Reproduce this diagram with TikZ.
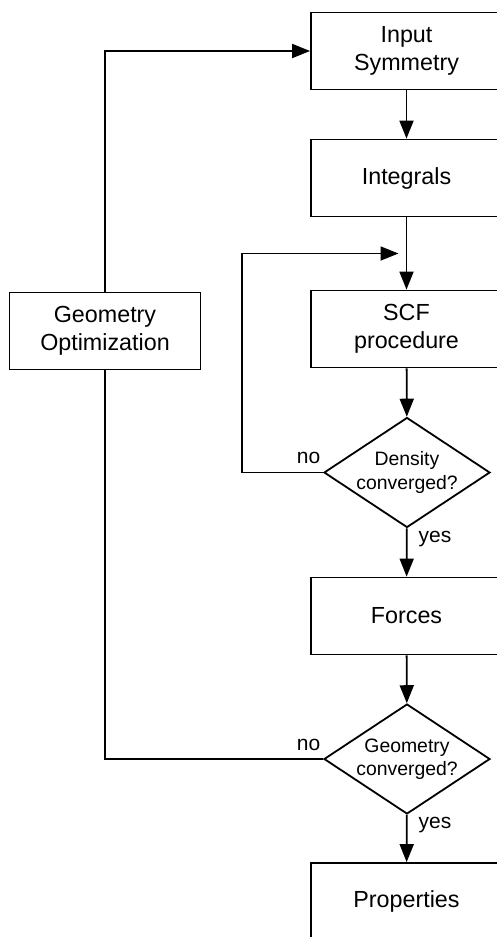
\documentclass[tikz,border=0pt]{standalone}
\usepackage{fontspec}
\setmainfont{Liberation Sans}
\usetikzlibrary{shapes.geometric,arrows.meta,calc}
\begin{document}
\begin{tikzpicture}[x=1pt,y=-1pt,
  line width=1.8pt,
  stepbox/.style={draw,rectangle,minimum width=191pt,minimum height=77pt,
    inner sep=0pt,align=center,font=\fontsize{23.3}{27.5}\selectfont},
  decision/.style={draw,diamond,aspect=1.5,inner sep=-4pt,
    minimum width=166pt,minimum height=110pt,align=center,
    font=\fontsize{19.4}{23.3}\selectfont},
  lbl/.style={inner sep=0pt,font=\fontsize{21}{24}\selectfont},
  arr/.style={-{Triangle[length=18pt,width=14pt]}}]
\useasboundingbox (0,0) rectangle (497,937);
\clip (0,0) rectangle (497,937);

% main column of steps
\node[stepbox] (in)     at (406.5,51)    {Input\\Symmetry};
\node[stepbox] (int)    at (406.5,178)   {Integrals};
\node[stepbox] (scf)    at (406.5,329)   {SCF\\procedure};
\node[decision] (dd)    at (407,472.5)   {Density\\converged?};
\node[stepbox] (forces) at (406.5,616)   {Forces};
\node[decision] (gd)    at (407,759)     {Geometry\\converged?};
\node[stepbox] (props)  at (406.5,901.5) {Properties};

% outer loop box
\node[stepbox] (go) at (105,331) {Geometry\\Optimization};

% point where the SCF loop rejoins the main column
\coordinate (scfin) at ($(int.south)!0.5!(scf.north)$);

% straight flow
\draw[arr] (in) -- (int);
\draw[arr] (int) -- (scf);
\draw[arr] (scf) -- (dd);
\draw[arr] (dd) -- (forces);
\draw[arr] (forces) -- (gd);
\draw[arr] (gd) -- (props);

% SCF loop
\draw[arr] (dd.west) -- ++(-81,0) |- ([xshift=-8pt]scfin);

% geometry loop
\draw (gd.west) -| (go.south);
\draw[arr] (go.north) |- (in.west);

% branch labels
\node[lbl] (dno)  at ([shift={(-14.5,-14.5)}]dd.west) {no};
\node[lbl] (dyes) at ([shift={(28,10.5)}]dd.south)   {yes};
\node[lbl] (gno)  at ([shift={(-14.5,-14.5)}]gd.west) {no};
\node[lbl] (gyes) at ([shift={(28,10)}]gd.south)     {yes};
\end{tikzpicture}
\end{document}
